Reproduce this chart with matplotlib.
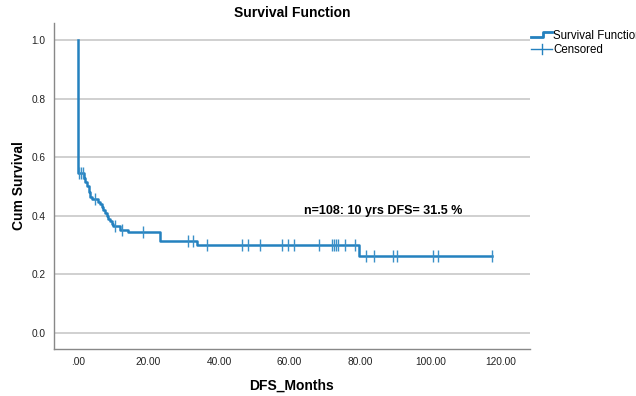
import numpy as np
import matplotlib
matplotlib.use("Agg")
import matplotlib.pyplot as plt
from matplotlib.lines import Line2D
from matplotlib.legend_handler import HandlerBase

plt.rcParams['font.family'] = ['Liberation Sans', 'DejaVu Sans']

# step times (months) and survival after each step
step_times = [0.0, 1.6, 2.0, 2.5, 3.0, 3.4, 3.9, 5.8, 6.3, 6.7, 7.2, 7.7, 8.1,
              8.6, 9.1, 9.6, 10.0, 11.9, 14.3, 23.3, 33.7, 79.8]
step_surv = [0.547, 0.53, 0.515, 0.50, 0.48, 0.465, 0.456, 0.448, 0.44, 0.43,
             0.42, 0.41, 0.40, 0.39, 0.38, 0.372, 0.363, 0.352, 0.343, 0.313,
             0.30, 0.262]
censor_times = [0.3, 0.8, 1.3, 4.8, 10.5, 12.5, 18.4, 31.2, 32.6, 36.6, 46.5,
                48.2, 51.6, 57.9, 59.6, 61.3, 68.4, 72.1, 72.6, 73.2, 73.8,
                75.9, 78.7, 81.7, 84.0, 89.4, 90.5, 100.7, 102.1, 117.5]
end_time = 117.5

blue = '#2481bf'

# build step curve
xs = [0.0]
ys = [1.0]
for t, s in zip(step_times, step_surv):
    xs += [t, t]
    ys += [ys[-1], s]
xs.append(end_time)
ys.append(ys[-1])


def surv_at(t):
    s = 1.0
    for st, sv in zip(step_times, step_surv):
        if st <= t:
            s = sv
    return s


censor_surv = [surv_at(t) for t in censor_times]


class StepHandler(HandlerBase):
    def create_artists(self, legend, orig_handle, xdescent, ydescent,
                       width, height, fontsize, trans):
        x0, y0 = -xdescent, -ydescent
        line = Line2D([x0, x0 + width * 0.55, x0 + width * 0.55, x0 + width],
                      [y0 + height * 0.2, y0 + height * 0.2,
                       y0 + height * 0.85, y0 + height * 0.85],
                      color=blue, lw=2, transform=trans)
        return [line]


class CrossHandler(HandlerBase):
    def create_artists(self, legend, orig_handle, xdescent, ydescent,
                       width, height, fontsize, trans):
        x0, y0 = -xdescent, -ydescent
        h = Line2D([x0, x0 + width], [y0 + height / 2] * 2,
                   color=blue, lw=1, transform=trans)
        v = Line2D([x0 + width / 2] * 2, [y0 - height * 0.1, y0 + height * 1.1],
                   color=blue, lw=1, transform=trans)
        return [h, v]


fig = plt.figure(figsize=(6.36, 3.96), dpi=100)
ax = fig.add_axes([0.085, 0.119, 0.748, 0.823])

ax.plot(xs, ys, color=blue, lw=1.8, zorder=3)
ax.plot(censor_times, censor_surv, linestyle='none', marker='|',
        markersize=8, mew=1, color='#3a90c8', zorder=4)

ax.set_xlim(-6.8, 128.2)
ax.set_ylim(-0.055, 1.058)
ax.set_xticks(np.arange(0, 121, 20))
ax.set_xticklabels(['.00', '20.00', '40.00', '60.00', '80.00', '100.00', '120.00'])
ax.set_yticks(np.arange(0, 1.01, 0.2))
ax.set_yticklabels(['0.0', '0.2', '0.4', '0.6', '0.8', '1.0'])
ax.tick_params(length=0, labelsize=7.3, colors='#222222', pad=6)
ax.grid(axis='y', color='#c8c8c8', lw=1.2)
ax.set_axisbelow(True)
for side in ['top', 'right']:
    ax.spines[side].set_visible(False)
for side in ['left', 'bottom']:
    ax.spines[side].set_color('#888888')
    ax.spines[side].set_linewidth(1)

ax.set_title('Survival Function', fontsize=10, fontweight='bold', pad=4)
ax.set_xlabel('DFS_Months', fontsize=10, fontweight='bold', labelpad=8)
ax.set_ylabel('Cum Survival', fontsize=10, fontweight='bold', labelpad=4)

ax.text(64.1, 0.416, 'n=108: 10 yrs DFS= 31.5 %', fontsize=9,
        fontweight='bold', va='center', ha='left')

h1 = Line2D([], [])
h2 = Line2D([], [])
leg = fig.legend([h1, h2], ['Survival Function', 'Censored'],
                 handler_map={h1: StepHandler(), h2: CrossHandler()},
                 loc='upper left', bbox_to_anchor=(0.828, 0.937),
                 frameon=False, fontsize=8.3, handlelength=1.8,
                 handletextpad=0.1, labelspacing=0.2, borderaxespad=0)

fig.savefig('out.png', dpi=100)
